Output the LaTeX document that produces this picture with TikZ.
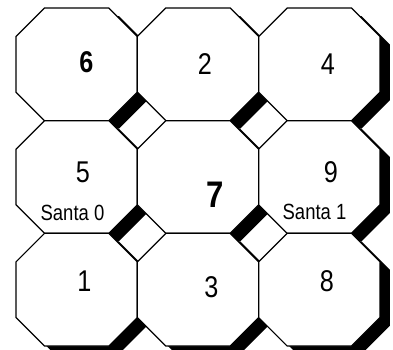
\documentclass[tikz,border=0pt]{standalone}
\usepackage{fontspec}
\setmainfont{Liberation Sans}[FakeStretch=0.84]
\begin{document}
\begin{tikzpicture}[x={(1pt,0)},y={(0,-1pt)},
  octo/.style={draw=black,fill=white,line width=1.2pt,line join=miter},
  shade/.style={fill=black},
  num/.style={inner sep=0pt,font=\fontsize{30}{30}\selectfont},
  bignum/.style={inner sep=0pt,font=\fontsize{30}{30}\selectfont\bfseries},
  hugenum/.style={inner sep=0pt,font=\fontsize{37}{37}\selectfont\bfseries},
  santa/.style={inner sep=0pt,font=\fontsize{22}{22}\selectfont}]
\useasboundingbox (0,0) rectangle (393,349);
\def\cc{28.5}
\def\cw{121.33}
\def\ch{112.67}
% shadows
\foreach \i in {0,1,2}{
  \foreach \j in {0,1,2}{
    \pgfmathsetmacro{\L}{16+\cw*\i}
    \pgfmathsetmacro{\R}{16+\cw*(\i+1)}
    \pgfmathsetmacro{\T}{8+\ch*\j}
    \pgfmathsetmacro{\B}{8+\ch*(\j+1)}
    \fill[shade,shift={(10,8)}] (\L+\cc,\T) -- (\R-\cc,\T) -- (\R,\T+\cc) -- (\R,\B-\cc) -- (\R-\cc,\B) -- (\L+\cc,\B) -- (\L,\B-\cc) -- (\L,\T+\cc) -- cycle;
  }
}
% octagons
\foreach \i in {0,1,2}{
  \foreach \j in {0,1,2}{
    \pgfmathsetmacro{\L}{16+\cw*\i}
    \pgfmathsetmacro{\R}{16+\cw*(\i+1)}
    \pgfmathsetmacro{\T}{8+\ch*\j}
    \pgfmathsetmacro{\B}{8+\ch*(\j+1)}
    \draw[octo] (\L+\cc,\T) -- (\R-\cc,\T) -- (\R,\T+\cc) -- (\R,\B-\cc) -- (\R-\cc,\B) -- (\L+\cc,\B) -- (\L,\B-\cc) -- (\L,\T+\cc) -- cycle;
  }
}
\node[bignum] (n6) at (86.5,62) {6};
\node[num] (n2) at (205,64) {2};
\node[num] (n4) at (328,64) {4};
\node[num] (n5) at (83,172.5) {5};
\node[hugenum] (n7) at (215,195) {7};
\node[num] (n9) at (331,172) {9};
\node[santa] (s0) at (72.5,213) {Santa 0};
\node[santa] (s1) at (314.5,212) {Santa 1};
\node[num] (n1) at (84.5,281.5) {1};
\node[num] (n3) at (211.5,287) {3};
\node[num] (n8) at (327,281) {8};
\end{tikzpicture}
\end{document}
